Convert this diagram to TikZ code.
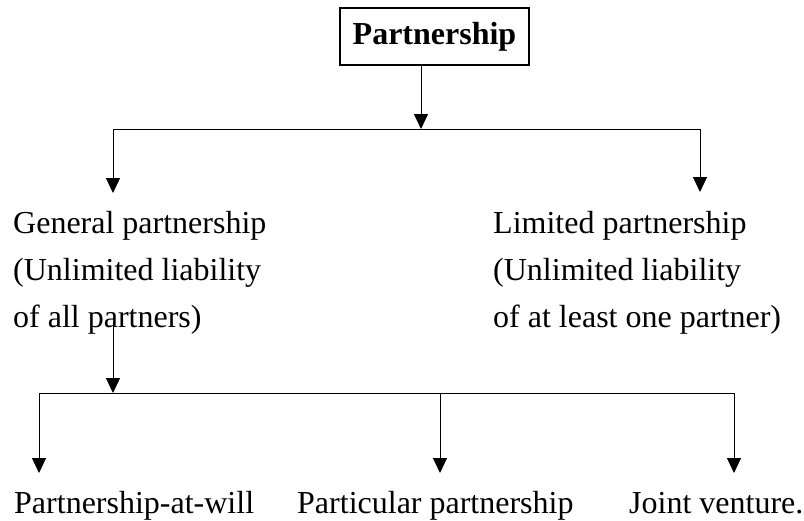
\documentclass[tikz,border=0pt]{standalone}
\usepackage{fontspec}
\setmainfont{Liberation Serif}
\usetikzlibrary{arrows.meta}
\begin{document}
\begin{tikzpicture}[x=1pt,y=-1pt,
  txt/.style={inner sep=0pt,anchor=base west,font=\fontsize{32}{38}\selectfont},
  line/.style={line width=1pt,black},
  arr/.style={line width=1pt,black,-{Triangle[width=14pt,length=15pt]}},
  topbox/.style={draw,line width=2pt,minimum width=189pt,minimum height=57pt,inner sep=0pt,font=\fontsize{32}{38}\selectfont\bfseries}]
\useasboundingbox (0,0) rectangle (804,520);
\node[topbox] (root) at (434.5,36.5) {Partnership};
% top split
\coordinate (rb) at (421,65);
\coordinate (h1) at (421,129);
\coordinate (h1l) at (113,129);
\coordinate (h1r) at (700,129);
\coordinate (gpt) at (113,193);
\coordinate (lpt) at (700,192);
\draw[arr] (rb) -- (h1);
\draw[line] (h1l) -- (h1r);
\draw[arr] (h1l) -- (gpt);
\draw[arr] (h1r) -- (lpt);
% texts
\node[txt] (gp1) at (13,233) {General partnership};
\node[txt] (gp2) at (13,280) {(Unlimited liability};
\node[txt] (gp3) at (13,327) {of all partners)};
\node[txt] (lp1) at (493,233) {Limited partnership};
\node[txt] (lp2) at (493,280) {(Unlimited liability};
\node[txt] (lp3) at (493,327) {of at least one partner)};
% lower split
\coordinate (gs) at (113,322);
\coordinate (h2) at (113,393);
\coordinate (h2l) at (39,393);
\coordinate (h2m) at (440,393);
\coordinate (h2r) at (734,393);
\coordinate (t1) at (39,473);
\coordinate (t2) at (440,473);
\coordinate (t3) at (734,473);
\draw[arr] (gs) -- (h2);
\draw[line] (h2l) -- (h2r);
\draw[arr] (h2l) -- (t1);
\draw[arr] (h2m) -- (t2);
\draw[arr] (h2r) -- (t3);
\node[txt] (b1) at (14,513) {Partnership-at-will};
\node[txt] (b2) at (297,513) {Particular partnership};
\node[txt] (b3) at (629,513) {Joint venture.};
\end{tikzpicture}
\end{document}
